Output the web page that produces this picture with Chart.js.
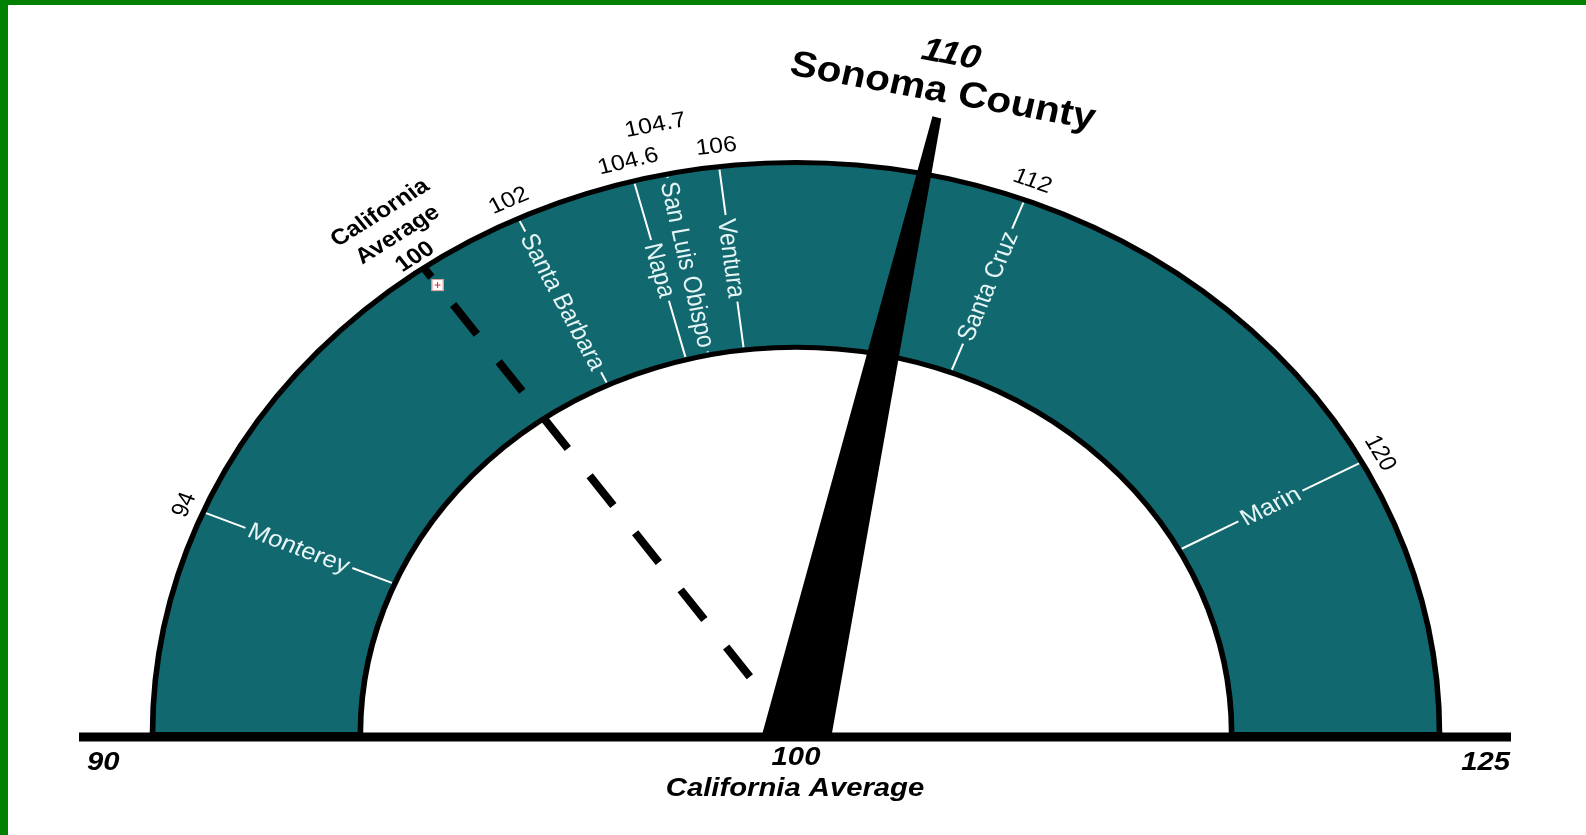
<!DOCTYPE html>
<html>
<head>
<meta charset="utf-8">
<script src="https://cdn.jsdelivr.net/npm/chart.js@4/dist/chart.umd.min.js"></script>
<style>
  html, body { margin: 0; padding: 0; background: #008000; width: 1586px; height: 835px; overflow: hidden; }
  #wrap { position: absolute; left: 8px; top: 5px; width: 1578px; height: 830px; background: #ffffff; }
  canvas { display: block; }
</style>
</head>
<body>
<div id="wrap"><canvas id="gauge"></canvas></div>
<script>
// ---- data ----
const gaugeRange = [90, 125];
const averageValue = 100;
const averageLabel = ['California', 'Average'];
const countyValue = 110;
const countyName = 'Sonoma County';
const markerNames = ['Monterey', 'Santa Barbara', 'Napa', 'San Luis Obispo', 'Ventura', 'Santa Cruz', 'Marin'];
const markerValues = [94, 102, 104.6, 104.7, 106, 112, 120];
const axisTitle = 'California Average';

// ---- style ----
const SX = 1.125;              // horizontal stretch of the whole dial (elliptical gauge)
const TEAL = '#12686f';
const FONT = '"Liberation Sans", Arial, Helvetica, sans-serif';

function ellipseRadius(phi, R) {
  const c = Math.cos(phi), s = Math.sin(phi), a = R * SX, b = R;
  return 1 / Math.sqrt(c * c / (a * a) + s * s / (b * b));
}
function tangentAngle(phi, R) {
  const r = ellipseRadius(phi, R), a = R * SX, b = R;
  const x = r * Math.cos(phi), y = r * Math.sin(phi);
  return Math.atan2(x / (a * a), -y / (b * b));
}
// text drawn as if the whole picture had been stretched horizontally
function localAngle(theta) { return Math.atan2(SX * Math.sin(theta), Math.cos(theta)); }
function stretchFactor(theta) {
  const t = localAngle(theta);
  return Math.hypot(SX * Math.cos(t), Math.sin(t));
}
function drawText(ctx, txt, x, y, theta, dy) {
  ctx.save();
  ctx.translate(x, y);
  ctx.scale(SX, 1);
  ctx.rotate(localAngle(theta));
  ctx.fillText(txt, 0, dy || 0);
  ctx.restore();
}

const stretchPlugin = {
  id: 'stretch',
  beforeDatasetsDraw(chart) {
    const arc = chart.getDatasetMeta(0).data[0];
    const ctx = chart.ctx;
    ctx.save();
    ctx.translate(arc.x, 0);
    ctx.scale(SX, 1);
    ctx.translate(-arc.x, 0);
  },
  afterDatasetsDraw(chart) { chart.ctx.restore(); }
};

const overlayPlugin = {
  id: 'overlay',
  afterDraw(chart) {
    const ctx = chart.ctx;
    const arc = chart.getDatasetMeta(0).data[0];
    const cx = arc.x, cy = arc.y, Ro = arc.outerRadius, Ri = arc.innerRadius;
    const [vMin, vMax] = gaugeRange;
    const ang = v => arc.startAngle + (v - vMin) / (vMax - vMin) * (arc.endAngle - arc.startAngle);
    const pt = (phi, r) => [cx + r * Math.cos(phi), cy + r * Math.sin(phi)];

    // marker angles, spread apart where they would collide
    const angles = markerValues.map(ang);
    const minSep = 28 / ((Ro + Ri) / 2);
    for (let it = 0; it < 30; it++) {
      for (let i = 1; i < angles.length; i++) {
        const d = angles[i] - angles[i - 1];
        if (d < minSep) { const o = (minSep - d) / 2; angles[i - 1] -= o; angles[i] += o; }
      }
    }

    ctx.save();
    // county marker lines + names inside the band
    ctx.font = '23px ' + FONT;
    ctx.textAlign = 'center';
    ctx.textBaseline = 'middle';
    markerNames.forEach((name, i) => {
      const phi = angles[i];
      const leftSide = phi < -Math.PI / 2;
      const theta = leftSide ? phi + Math.PI : phi;
      const rO = ellipseRadius(phi, Ro) - 3, rI = ellipseRadius(phi, Ri) + 3;
      const rM = (rO + rI) / 2;
      const w = ctx.measureText(name).width * stretchFactor(theta);
      ctx.strokeStyle = '#ffffff';
      ctx.lineWidth = 2;
      const seg = (r1, r2) => {
        if (r2 - r1 < 1) return;
        const p1 = pt(phi, r1), p2 = pt(phi, r2);
        ctx.beginPath(); ctx.moveTo(p1[0], p1[1]); ctx.lineTo(p2[0], p2[1]); ctx.stroke();
      };
      seg(rI, rM - w / 2 - 4);
      seg(rM + w / 2 + 4, rO);
      const p = pt(phi, rM);
      ctx.fillStyle = '#e6f5f5';
      drawText(ctx, name, p[0], p[1], theta, 1);
    });

    // average dashed line: short dash at the rim, then 7 full dashes to the hub
    const phiA = ang(averageValue);
    const rOA = ellipseRadius(phiA, Ro);
    const rEnd = 74, dash = 38, first = 12, nDash = 7;
    const L = rOA - rEnd;
    const gap = (L - first) / nDash - dash;
    ctx.save();
    ctx.strokeStyle = '#000';
    ctx.lineWidth = 8;
    ctx.setLineDash([dash, gap]);
    ctx.lineDashOffset = dash - first;
    ctx.beginPath();
    const a1 = pt(phiA, rOA), a2 = pt(phiA, rEnd);
    ctx.moveTo(a1[0], a1[1]); ctx.lineTo(a2[0], a2[1]);
    ctx.stroke();
    ctx.restore();
    // small image placeholder icon
    const ic = pt(phiA, rOA - 22);
    ctx.fillStyle = '#ffffff';
    ctx.fillRect(ic[0] - 6, ic[1] - 6, 12, 12);
    ctx.strokeStyle = '#d89a9a'; ctx.lineWidth = 1;
    ctx.strokeRect(ic[0] - 5.5, ic[1] - 5.5, 11, 11);
    ctx.strokeStyle = '#d23030';
    ctx.beginPath();
    ctx.moveTo(ic[0] - 3, ic[1]); ctx.lineTo(ic[0] + 3, ic[1]);
    ctx.moveTo(ic[0], ic[1] - 3); ctx.lineTo(ic[0], ic[1] + 3);
    ctx.stroke();

    // needle
    const phiN = ang(countyValue);
    const rTip = ellipseRadius(phiN, Ro) + 58;
    const d = [Math.cos(phiN), Math.sin(phiN)], n = [-Math.sin(phiN), Math.cos(phiN)];
    const T = [cx + d[0] * rTip, cy + d[1] * rTip];
    ctx.fillStyle = '#000';
    ctx.beginPath();
    ctx.moveTo(cx - 35, cy + 4);
    ctx.lineTo(cx + 35, cy + 4);
    ctx.lineTo(T[0] + n[0] * 4.5, T[1] + n[1] * 4.5);
    ctx.lineTo(T[0] - n[0] * 4.5, T[1] - n[1] * 4.5);
    ctx.closePath();
    ctx.fill();

    // baseline axis
    ctx.fillRect(cx - 717, cy - 2, 1432, 9);

    // tick value labels outside the band
    ctx.font = '22px ' + FONT;
    ctx.fillStyle = '#000';
    const placed = [];
    markerValues.forEach((v, i) => {
      const phi = angles[i];
      const txt = String(v);
      const theta = tangentAngle(phi, Ro);
      const w = ctx.measureText(txt).width * stretchFactor(theta);
      const rBase = ellipseRadius(phi, Ro) + 20;
      let level = 0;
      while (placed.some(p => p.level === level && Math.abs(p.phi - phi) * rBase < (p.w + w) / 2 + 6)) level++;
      placed.push({ level, phi, w });
      const p = pt(phi, rBase + level * 30);
      drawText(ctx, txt, p[0], p[1], theta);
    });

    // average label
    ctx.font = 'bold 22px ' + FONT;
    const av = pt(phiA, rOA + 42);
    const tA = tangentAngle(phiA, Ro);
    drawText(ctx, averageLabel[0], av[0], av[1], tA, -27);
    drawText(ctx, averageLabel[1], av[0], av[1], tA, 0);
    drawText(ctx, String(averageValue), av[0], av[1], tA, 27);

    // county label at needle tip
    const tr = tangentAngle(phiN, Ro);
    const sc = pt(phiN, rTip + 26);
    ctx.font = 'bold 36px ' + FONT;
    drawText(ctx, countyName, sc[0], sc[1], tr);
    const nv = pt(phiN, rTip + 64);
    ctx.font = 'italic bold 33px ' + FONT;
    drawText(ctx, String(countyValue), nv[0], nv[1], tr);

    // axis labels under the baseline
    ctx.font = 'italic bold 26px ' + FONT;
    ctx.textAlign = 'left';
    drawText(ctx, String(gaugeRange[0]), cx - 709, cy + 28, 0);
    ctx.textAlign = 'right';
    drawText(ctx, String(gaugeRange[1]), cx + 714, cy + 28, 0);
    ctx.textAlign = 'center';
    drawText(ctx, String(averageValue), cx, cy + 23, 0);
    drawText(ctx, axisTitle, cx - 1, cy + 54, 0);
    ctx.restore();
  }
};

const R_OUT = 572;
new Chart(document.getElementById('gauge'), {
  type: 'doughnut',
  data: {
    labels: ['Range'],
    datasets: [{
      data: [gaugeRange[1] - gaugeRange[0]],
      backgroundColor: TEAL,
      borderColor: '#000000',
      borderWidth: 5,
      borderJoinStyle: 'miter'
    }]
  },
  options: {
    responsive: true,
    maintainAspectRatio: false,
    animation: false,
    events: [],
    rotation: -90,
    circumference: 180,
    cutout: '67.7%',
    radius: R_OUT,
    layout: { padding: { left: 0, right: 2, top: 100, bottom: 43 } },
    plugins: { legend: { display: false }, tooltip: { enabled: false } }
  },
  plugins: [stretchPlugin, overlayPlugin]
});
</script>
</body>
</html>
